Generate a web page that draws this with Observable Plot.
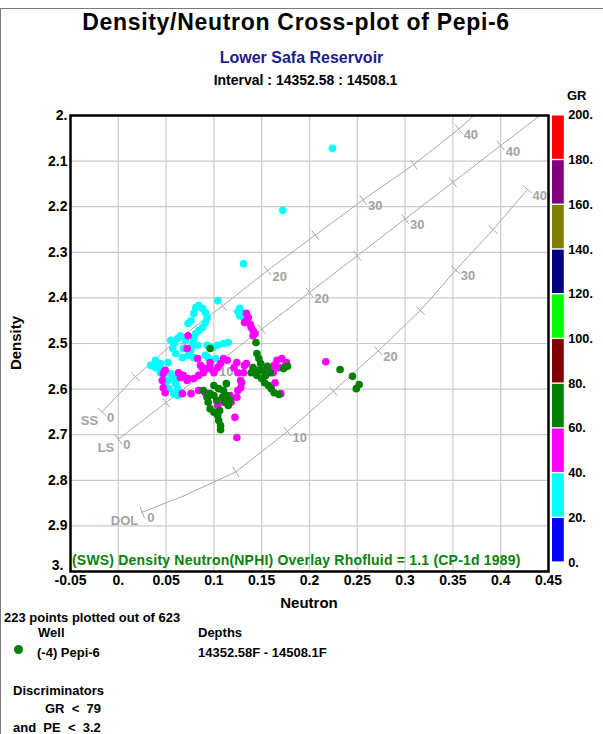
<!DOCTYPE html>
<html><head><meta charset="utf-8">
<script src="https://cdn.jsdelivr.net/npm/d3@7"></script>
<script src="https://cdn.jsdelivr.net/npm/@observablehq/plot@0.6"></script>
<style>
body{margin:0;background:#fff;}
#page{position:relative;width:603px;height:734px;overflow:hidden;font-family:"Liberation Sans",Arial,sans-serif;}
.t{position:absolute;white-space:nowrap;line-height:1;font-weight:bold;color:#000;}
.abs{position:absolute;left:0;top:0;}
</style></head><body><div id="page">
<div style="position:absolute;left:0;top:8px;width:700px;height:800px;border-left:1px solid #7a7a7a;border-top:1px solid #7a7a7a;"></div>
<div class="t" style="left:0;width:592px;text-align:center;top:11px;font-size:23px;letter-spacing:0.7px;">Density/Neutron Cross-plot of Pepi-6</div>
<div class="t" style="left:0;width:603px;text-align:center;top:50px;font-size:16px;color:#1c1c8c;">Lower Safa Reservoir</div>
<div class="t" style="left:0;width:611px;text-align:center;top:73px;font-size:14px;">Interval : 14352.58 : 14508.1</div>
<div class="t" style="left:567px;top:89px;font-size:13px;">GR</div>
<div id="main" class="abs"></div>
<div id="bar" style="position:absolute;left:552px;top:105px;"></div>
<div class="t" style="left:15px;top:343px;font-size:15px;transform:translate(-50%,-50%) rotate(-90deg);">Density</div>
<div class="t" style="left:309px;top:595px;font-size:15px;transform:translateX(-50%);">Neutron</div>
<div class="t" style="left:72px;top:553px;font-size:14px;letter-spacing:0.2px;color:#0a820a;">(SWS) Density Neutron(NPHI) Overlay Rhofluid = 1.1 (CP-1d 1989)</div>
<div class="t" style="left:4px;top:611px;font-size:13px;">223 points plotted out of 623</div>
<div class="t" style="left:38px;top:626px;font-size:13px;">Well</div>
<div class="t" style="left:198px;top:626px;font-size:13px;">Depths</div>
<div style="position:absolute;left:14px;top:645px;width:9px;height:9px;border-radius:50%;background:#008000;"></div>
<div class="t" style="left:37px;top:646px;font-size:13px;">(-4) Pepi-6</div>
<div class="t" style="left:198px;top:646px;font-size:13px;">14352.58F - 14508.1F</div>
<div class="t" style="left:13px;top:684px;font-size:13px;">Discriminators</div>
<div class="t" style="left:45px;top:702px;font-size:13px;white-space:pre;">GR  &lt;  79</div>
<div class="t" style="left:13px;top:721px;font-size:13px;white-space:pre;">and  PE  &lt;  3.2</div>
</div>
<script>
// ---------- data ----------
const xTicks = [-0.05, 0, 0.05, 0.1, 0.15, 0.2, 0.25, 0.3, 0.35, 0.4, 0.45];
const xTickLabels = ["-0.05", "0.", "0.05", "0.1", "0.15", "0.2", "0.25", "0.3", "0.35", "0.4", "0.45"];
const yTicks = [2, 2.1, 2.2, 2.3, 2.4, 2.5, 2.6, 2.7, 2.8, 2.9, 3];
const yTickLabels = ["2.", "2.1", "2.2", "2.3", "2.4", "2.5", "2.6", "2.7", "2.8", "2.9", "3."];

const grBreaks = [20, 40, 60, 80, 100, 120, 140, 160, 180];
const grColors = ["#0000ff", "#00ffff", "#ff00ff", "#008000", "#800000", "#00ff00", "#000080", "#808000", "#800080", "#ff0000"];
const grBins = [0, 20, 40, 60, 80, 100, 120, 140, 160, 180];
const grTicks = [0, 20, 40, 60, 80, 100, 120, 140, 160, 180, 200];

// matrix overlay lines (porosity %, neutron, density)
const ssPhi = [0, 5, 10, 15, 20, 25, 30, 35, 40, 41.9];
const ssN = [-0.017, 0.018, 0.060, 0.109, 0.156, 0.206, 0.256, 0.309, 0.356, 0.372];
const ssD = [2.65, 2.5725, 2.495, 2.4175, 2.34, 2.2625, 2.185, 2.1075, 2.03, 2.0];
const lsPhi = [0, 5, 10, 15, 20, 25, 30, 35, 40, 44.1];
const lsN = [0, 0.05, 0.10, 0.15, 0.20, 0.25, 0.30, 0.35, 0.40, 0.441];
const lsD = [2.71, 2.6295, 2.549, 2.4685, 2.388, 2.3075, 2.227, 2.1465, 2.066, 2.0];
const dolPhi = [0, 2, 5, 10, 15, 20, 25, 30, 35, 40];
const dolN = [0.025, 0.068, 0.123, 0.177, 0.225, 0.272, 0.316, 0.353, 0.392, 0.428];
const dolD = [2.87, 2.8346, 2.7815, 2.693, 2.6045, 2.516, 2.4275, 2.339, 2.2505, 2.162];

// points [neutron, density] by GR class
const cyanGR = 30, magentaGR = 50, greenGR = 70;
const cyanPts = [
[0.224,2.072],[0.172,2.208],[0.131,2.325],[0.104,2.406],
[0.084,2.417],[0.081,2.421],[0.088,2.423],[0.091,2.432],[0.093,2.443],[0.091,2.454],[0.088,2.465],[0.084,2.472],
[0.079,2.434],[0.076,2.450],[0.073,2.456],[0.081,2.478],[0.079,2.489],[0.078,2.500],[0.083,2.504],[0.076,2.515],[0.073,2.526],[0.079,2.531],
[0.065,2.483],[0.062,2.489],[0.058,2.500],[0.057,2.511],[0.060,2.522],[0.067,2.531],[0.052,2.542],[0.044,2.544],
[0.091,2.526],[0.094,2.531],[0.102,2.533],[0.055,2.493],[0.093,2.504],[0.099,2.509],[0.104,2.504],[0.110,2.500],[0.115,2.498],[0.070,2.493],[0.068,2.511],
[0.127,2.423],[0.129,2.432],[0.127,2.439],[0.131,2.443],[0.125,2.430],
[0.039,2.553],[0.041,2.548],[0.034,2.548],[0.046,2.559],[0.047,2.570],[0.052,2.581],[0.053,2.599],[0.058,2.610],[0.062,2.614],
[0.055,2.566],[0.058,2.577],[0.060,2.588],[0.062,2.599],[0.044,2.564],[0.049,2.592],[0.039,2.537]
];
const magentaPts = [
[0.134,2.434],[0.136,2.443],[0.134,2.450],[0.132,2.454],[0.138,2.458],[0.139,2.465],[0.141,2.472],[0.143,2.478],[0.141,2.483],
[0.073,2.483],[0.072,2.511],[0.083,2.533],[0.096,2.542],
[0.110,2.533],[0.124,2.542],[0.134,2.544],[0.166,2.537],[0.171,2.533],[0.176,2.542],[0.163,2.548],
[0.047,2.566],[0.046,2.581],[0.047,2.597],[0.049,2.608],[0.049,2.559],
[0.063,2.564],[0.068,2.570],[0.073,2.577],[0.079,2.577],[0.084,2.570],[0.089,2.564],[0.093,2.555],[0.088,2.553],[0.065,2.575],[0.072,2.581],
[0.086,2.548],[0.096,2.555],[0.100,2.564],[0.104,2.553],[0.107,2.544],[0.114,2.537],[0.121,2.553],[0.125,2.564],[0.128,2.581],[0.128,2.597],
[0.125,2.603],[0.117,2.614],[0.109,2.625],[0.104,2.636],
[0.067,2.610],[0.076,2.610],[0.084,2.603],[0.091,2.608],[0.093,2.618],
[0.175,2.548],[0.168,2.553],[0.162,2.564],[0.164,2.586],[0.170,2.610],[0.158,2.555],
[0.132,2.548],[0.131,2.564],[0.129,2.586],[0.124,2.618],[0.118,2.629],[0.110,2.629],[0.122,2.662],[0.124,2.706],
[0.217,2.540]
];
const greenPts = [
[0.089,2.603],[0.093,2.618],[0.094,2.629],[0.096,2.643],[0.100,2.651],[0.104,2.658],[0.105,2.669],[0.107,2.680],[0.107,2.689],
[0.100,2.592],[0.105,2.599],[0.110,2.603],[0.114,2.614],[0.109,2.618],[0.112,2.629],[0.115,2.636],[0.100,2.614],[0.096,2.610],
[0.103,2.625],[0.106,2.647],[0.113,2.588],[0.117,2.625],
[0.096,2.511],
[0.144,2.498],[0.145,2.522],[0.147,2.533],[0.149,2.544],[0.141,2.553],[0.146,2.559],[0.151,2.559],[0.154,2.570],[0.150,2.577],
[0.153,2.586],[0.157,2.592],[0.160,2.599],[0.163,2.608],[0.168,2.612],[0.156,2.550],[0.159,2.564],[0.173,2.555],[0.177,2.550],
[0.145,2.570],[0.139,2.564],
[0.232,2.557],[0.245,2.572],[0.249,2.599],[0.252,2.590]
];

// ---------- layout ----------
const W = 603, H = 610, mL = 70, mR = 55, mT = 115, mB = 39;
const KX = (W - mL - mR) / (xTicks[xTicks.length - 1] - xTicks[0]);
const KY = (H - mT - mB) / (yTicks[yTicks.length - 1] - yTicks[0]);
const FONT = "'Liberation Sans', Arial, sans-serif";

const lineRows = (name, phi, n, d) => phi.map((p, i) => ({name, phi: p, n: n[i], d: d[i]}));
const ss = lineRows("SS", ssPhi, ssN, ssD);
const ls = lineRows("LS", lsPhi, lsN, lsD);
const dol = lineRows("DOL", dolPhi, dolN, dolD);
const overlay = [ss, ls, dol];

function tickRows(rows) {
  const out = [];
  rows.forEach((r, i) => {
    if (r.phi % 5 !== 0 || r.phi > 40) return;
    const a = rows[Math.max(0, i - 1)], b = rows[Math.min(rows.length - 1, i + 1)];
    const dx = (b.n - a.n) * KX, dy = (b.d - a.d) * KY;
    const L = Math.hypot(dx, dy);
    const px = -dy / L * 6, py = dx / L * 6;
    out.push({x1: r.n - px / KX, y1: r.d - py / KY, x2: r.n + px / KX, y2: r.d + py / KY});
  });
  return out;
}
const ticks = overlay.flatMap(tickRows);
const numLabels = overlay.flatMap(rows => rows.filter(r => [0, 10, 20, 30, 40].includes(r.phi)));
const nameLabels = overlay.map(rows => rows[0]);

const pts = [
  ...cyanPts.map(([n, d]) => ({n, d, gr: cyanGR})),
  ...magentaPts.map(([n, d]) => ({n, d, gr: magentaGR})),
  ...greenPts.map(([n, d]) => ({n, d, gr: greenGR}))
];

const colorOpt = {type: "threshold", domain: grBreaks, range: grColors};
const fmtX = v => xTickLabels[xTicks.findIndex(t => Math.abs(t - v) < 1e-9)];
const fmtY = v => yTickLabels[yTicks.findIndex(t => Math.abs(t - v) < 1e-9)];
const yMain = yTicks.slice(0, -1), yLast = yTicks.slice(-1);

const main = Plot.plot({
  width: W, height: H, marginLeft: mL, marginRight: mR, marginTop: mT, marginBottom: mB,
  style: {fontFamily: FONT, fontSize: "14px", fontWeight: "bold", background: "transparent", overflow: "visible"},
  x: {domain: [xTicks[0], xTicks[xTicks.length - 1]], axis: null},
  y: {domain: [yTicks[0], yTicks[yTicks.length - 1]], reverse: true, axis: null},
  color: colorOpt,
  marks: [
    Plot.gridX(xTicks, {stroke: "#cbcbcb", strokeOpacity: 1, strokeWidth: 1.2}),
    Plot.gridY(yTicks, {stroke: "#cbcbcb", strokeOpacity: 1, strokeWidth: 1.2}),
    ...overlay.map(rows => Plot.line(rows, {x: "n", y: "d", stroke: "#a9a9a9", strokeWidth: 1})),
    Plot.link(ticks, {x1: "x1", y1: "y1", x2: "x2", y2: "y2", stroke: "#a9a9a9", strokeWidth: 1}),
    Plot.text(numLabels, {x: "n", y: "d", text: d => String(d.phi), dx: 5, dy: 6, textAnchor: "start", fill: "#a3a3a3", fontSize: 13, fontWeight: "bold"}),
    Plot.text(nameLabels, {x: "n", y: "d", text: "name", dx: -4, dy: 9, textAnchor: "end", fill: "#a3a3a3", fontSize: 13, fontWeight: "bold"}),
    Plot.dot(pts, {x: "n", y: "d", fill: "gr", r: 3.8}),
    Plot.frame({stroke: "#000", strokeWidth: 2.5}),
    Plot.axisX(xTicks, {tickSize: 0, tickPadding: 4, tickFormat: fmtX, fontSize: 14, fontWeight: "bold", fill: "#000"}),
    Plot.axisY(yMain, {tickSize: 0, tickPadding: 3, tickFormat: fmtY, fontSize: 14, fontWeight: "bold", fill: "#000"}),
    Plot.axisY(yLast, {tickSize: 0, tickPadding: 3, tickFormat: fmtY, fontSize: 14, fontWeight: "bold", fill: "#000", dx: -4, dy: -6})
  ]
});
document.getElementById("main").appendChild(main);

const bar = Plot.plot({
  width: 52, height: 476, marginLeft: 0, marginRight: 40, marginTop: 10, marginBottom: 10,
  style: {fontFamily: FONT, fontSize: "13px", fontWeight: "bold", background: "transparent", overflow: "visible"},
  x: {domain: [0, 1], axis: null},
  y: {domain: [grTicks[0], grTicks[grTicks.length - 1]], axis: null},
  color: colorOpt,
  marks: [
    Plot.rect(grBins, {x1: 0, x2: 1, y1: d => d, y2: (d, i) => grTicks[i + 1], fill: d => d, insetTop: 0.7, insetBottom: 0.7}),
    Plot.axisY(grTicks, {anchor: "right", tickSize: 0, tickPadding: 4, tickFormat: d => d + ".", fontSize: 13, fontWeight: "bold", fill: "#000"})
  ]
});
document.getElementById("bar").appendChild(bar);
</script>
</body></html>
